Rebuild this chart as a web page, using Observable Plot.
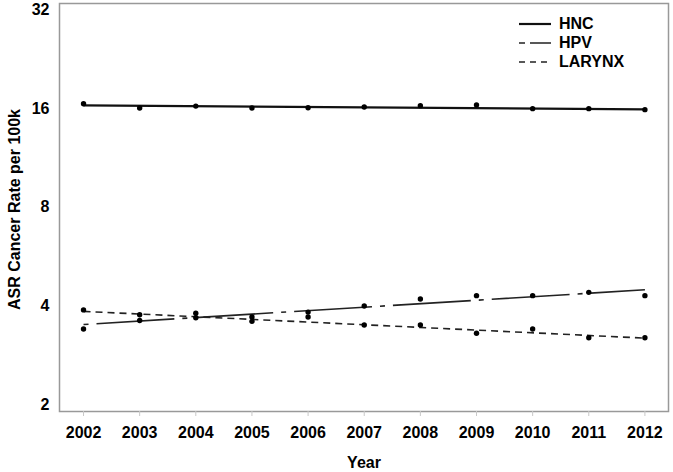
<!DOCTYPE html>
<html>
<head>
<meta charset="utf-8">
<script src="https://cdn.jsdelivr.net/npm/d3@7"></script>
<script src="https://cdn.jsdelivr.net/npm/@observablehq/plot@0.6"></script>
<style>
  html, body { margin: 0; padding: 0; background: #fff; }
  #wrap { position: relative; width: 673px; height: 472px; font-family: "Liberation Sans", Arial, sans-serif; }
  #legend { position: absolute; left: 518px; top: 14px; font-weight: bold; font-size: 16px; color: #000; }
  #legend .row { display: flex; align-items: center; height: 19.2px; }
  #legend svg { width: 34px; height: 10px; margin-right: 7px; }
</style>
</head>
<body>
<div id="wrap"></div>
<script>
// ---- data ----
const years = [2002, 2003, 2004, 2005, 2006, 2007, 2008, 2009, 2010, 2011, 2012];
const hnc    = [16.57, 16.07, 16.29, 16.07, 16.11, 16.18, 16.34, 16.41, 16.0, 16.0, 15.89];
const hpv    = [3.40, 3.61, 3.68, 3.70, 3.83, 4.00, 4.20, 4.30, 4.30, 4.40, 4.30];
const larynx = [3.89, 3.76, 3.80, 3.59, 3.70, 3.50, 3.50, 3.30, 3.40, 3.20, 3.20];
// fitted trend values at the first and last year
const fitYears  = [2002, 2012];
const hncFit    = [16.37, 15.92];
const hpvFit    = [3.51, 4.48];
const larynxFit = [3.85, 3.19];
const seriesNames = ["HNC", "HPV", "LARYNX"];
const yTicks = [2, 4, 8, 16, 32];

// ---- build tables ----
const pts = [];
const fits = [];
[hnc, hpv, larynx].forEach((arr, i) => arr.forEach((v, j) => pts.push({series: seriesNames[i], year: years[j], value: v})));
[hncFit, hpvFit, larynxFit].forEach((arr, i) => arr.forEach((v, j) => fits.push({series: seriesNames[i], year: fitYears[j], value: v})));

const styleOf = {
  HNC:    {stroke: "#111", strokeWidth: 2.2, dash: null},
  HPV:    {stroke: "#222", strokeWidth: 1.6, dash: "5,8,78,8"},
  LARYNX: {stroke: "#222", strokeWidth: 1.6, dash: "7,5"}
};

const lineMarks = seriesNames.map(s => Plot.line(fits.filter(d => d.series === s), {
  x: "year", y: "value", stroke: styleOf[s].stroke, strokeWidth: styleOf[s].strokeWidth,
  strokeDasharray: styleOf[s].dash, strokeLinecap: "butt"
}));

const chart = Plot.plot({
  width: 673,
  height: 472,
  marginLeft: 59,
  marginRight: 5,
  marginTop: 3,
  marginBottom: 61,
  style: {fontFamily: "'Liberation Sans', Arial, sans-serif", fontSize: "16px", fontWeight: "bold", color: "#000", background: "#fff"},
  x: {domain: [2001.572, 2012.42]},
  y: {type: "log", base: 2, domain: [1.905, 33.5]},
  marks: [
    Plot.frame({stroke: "#999", strokeWidth: 1.5}),
    Plot.axisX({ticks: years, tickFormat: d => String(d), tickSize: 5, tickPadding: 10, stroke: "#c8c8c8", label: null}),
    Plot.axisY({ticks: yTicks, tickFormat: d => String(d), tickSize: 0, tickPadding: 10, label: null}),
    ...lineMarks,
    Plot.dot(pts, {x: "year", y: "value", r: 2.7, fill: "#000", stroke: null}),
    Plot.text(["Year"], {frameAnchor: "bottom", dy: 56, fontSize: 16, fontWeight: "bold"}),
    Plot.text(["ASR Cancer Rate per 100k"], {frameAnchor: "left", textAnchor: "middle", rotate: -90, dx: -45, dy: 2, fontSize: 16, fontWeight: "bold"})
  ]
});

const wrap = document.getElementById("wrap");
wrap.appendChild(chart);

// legend
const legend = document.createElement("div");
legend.id = "legend";
const legendDash = {HNC: null, HPV: "6 5 21", LARYNX: "6 5"};
seriesNames.forEach(s => {
  const row = document.createElement("div");
  row.className = "row";
  const st = styleOf[s];
  row.innerHTML = `<svg viewBox="0 0 34 10"><line x1="1" x2="33" y1="5" y2="5" stroke="${st.stroke}" stroke-width="${st.strokeWidth}" ${legendDash[s] ? `stroke-dasharray="${legendDash[s]}"` : ""}/></svg><span>${s}</span>`;
  legend.appendChild(row);
});
wrap.appendChild(legend);
</script>
</body>
</html>
